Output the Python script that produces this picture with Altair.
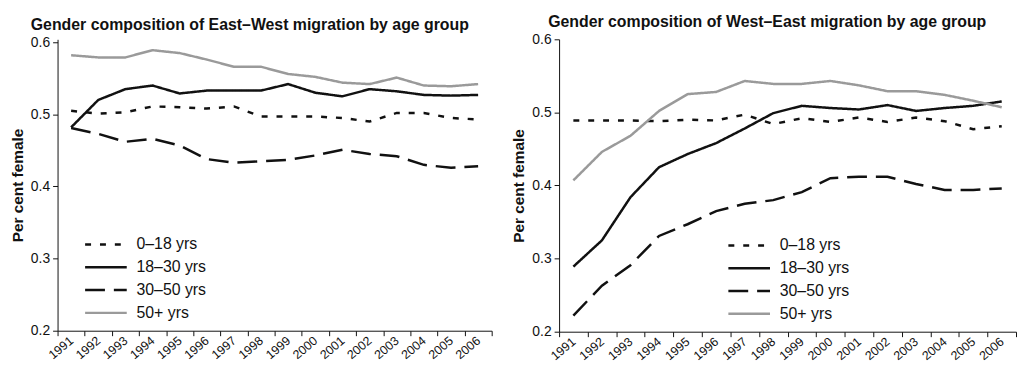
import altair as alt
import pandas as pd

years = list(range(1991, 2007))
groups = ["0–18 yrs", "18–30 yrs", "30–50 yrs", "50+ yrs"]

# East–West migration, share female
ew_0_18 = [0.505, 0.501, 0.503, 0.511, 0.510, 0.508, 0.511, 0.497, 0.497, 0.497, 0.495, 0.490, 0.502, 0.502, 0.495, 0.493]
ew_18_30 = [0.482, 0.520, 0.535, 0.540, 0.529, 0.533, 0.533, 0.533, 0.542, 0.530, 0.525, 0.535, 0.532, 0.527, 0.526, 0.527]
ew_30_50 = [0.481, 0.473, 0.462, 0.466, 0.457, 0.438, 0.433, 0.435, 0.437, 0.443, 0.451, 0.445, 0.442, 0.430, 0.426, 0.428]
ew_50p = [0.582, 0.579, 0.579, 0.589, 0.585, 0.576, 0.566, 0.566, 0.556, 0.552, 0.544, 0.542, 0.551, 0.540, 0.539, 0.542]

# West–East migration, share female
we_0_18 = [0.489, 0.489, 0.489, 0.488, 0.490, 0.489, 0.497, 0.484, 0.492, 0.487, 0.493, 0.487, 0.493, 0.488, 0.477, 0.481]
we_18_30 = [0.289, 0.325, 0.384, 0.425, 0.443, 0.458, 0.478, 0.499, 0.509, 0.506, 0.504, 0.510, 0.502, 0.506, 0.509, 0.515]
we_30_50 = [0.222, 0.263, 0.291, 0.331, 0.347, 0.365, 0.375, 0.380, 0.391, 0.410, 0.412, 0.412, 0.402, 0.394, 0.394, 0.396]
we_50p = [0.407, 0.446, 0.468, 0.502, 0.525, 0.528, 0.543, 0.539, 0.539, 0.543, 0.537, 0.529, 0.529, 0.524, 0.516, 0.507]

y_ticks = [0.2, 0.3, 0.4, 0.5, 0.6]

titles = ["Gender composition of East–West migration by age group",
          "Gender composition of West–East migration by age group"]


def long_df(series):
    rows = []
    for g, vals in zip(groups, series):
        for yr, v in zip(years, vals):
            rows.append({"year": str(yr), "group": g, "value": v})
    return pd.DataFrame(rows)


ew = long_df([ew_0_18, ew_18_30, ew_30_50, ew_50p])
we = long_df([we_0_18, we_18_30, we_30_50, we_50p])

FONT = "Liberation Sans"
colors = ["#111111", "#111111", "#111111", "#9a9a9a"]
dashes = [[6, 9], [1, 0], [20, 9], [1, 0]]

# legend stroke symbol drawn from 0 to 10r, r = sqrt(size)/2
SYM_PATH = "M-1,0H9"
SYM_SIZE = 70.56  # -> line length 42px


def panel(df, title, width, height, y_top, title_dx, leg_x, leg_y):
    legend = alt.Legend(
        title=None, orient="none", legendX=leg_x, legendY=leg_y,
        symbolType=SYM_PATH, symbolSize=SYM_SIZE, symbolStrokeWidth=2.5,
        labelFontSize=16, labelFont=FONT, labelColor="#111111",
        labelOffset=39.6, rowPadding=7,
    )
    return alt.Chart(df).mark_line(strokeWidth=2.5).encode(
        x=alt.X("year:O", bandPosition=0.5,
                scale=alt.Scale(type="band", paddingInner=0, paddingOuter=0),
                axis=alt.Axis(title=None, tickBand="extent", labelAngle=-40,
                              labelAlign="right", labelBaseline="middle",
                              labelFontSize=12.5, labelFont=FONT, labelColor="#111111",
                              labelPadding=3, tickSize=5, domainColor="#111111",
                              tickColor="#111111", labelOverlap=False)),
        y=alt.Y("value:Q",
                scale=alt.Scale(domain=[0.2, y_top], nice=False, zero=False),
                axis=alt.Axis(title="Per cent female", values=y_ticks, format=".1f",
                              grid=False, labelFontSize=14, labelFont=FONT,
                              labelColor="#111111", tickSize=5, labelPadding=3,
                              titleFont=FONT, titleFontSize=15.5, titleFontWeight="bold",
                              titleColor="#111111", titlePadding=5,
                              domainColor="#111111", tickColor="#111111")),
        color=alt.Color("group:N", scale=alt.Scale(domain=groups, range=colors), legend=legend),
        strokeDash=alt.StrokeDash("group:N", scale=alt.Scale(domain=groups, range=dashes), legend=legend),
    ).properties(
        width=width, height=height,
        title=alt.TitleParams(title, anchor="start", frame="group", dx=title_dx,
                              offset=2, font=FONT, fontSize=16,
                              fontWeight="bold", color="#111111"),
    )


left = panel(ew, titles[0], 438, 294, 0.6041, -27, 24, 199)
right = panel(we, titles[1], 461, 295, 0.6, -11, 167, 200)

chart = alt.hconcat(left, right, spacing=19).resolve_scale(
    color="independent", strokeDash="independent"
).resolve_legend(color="independent", strokeDash="independent").configure_view(
    stroke=None
).properties(padding={"left": 2, "top": 5, "right": 0, "bottom": 0})

chart.save("out.html", embed_options={"renderer": "svg", "actions": False})
